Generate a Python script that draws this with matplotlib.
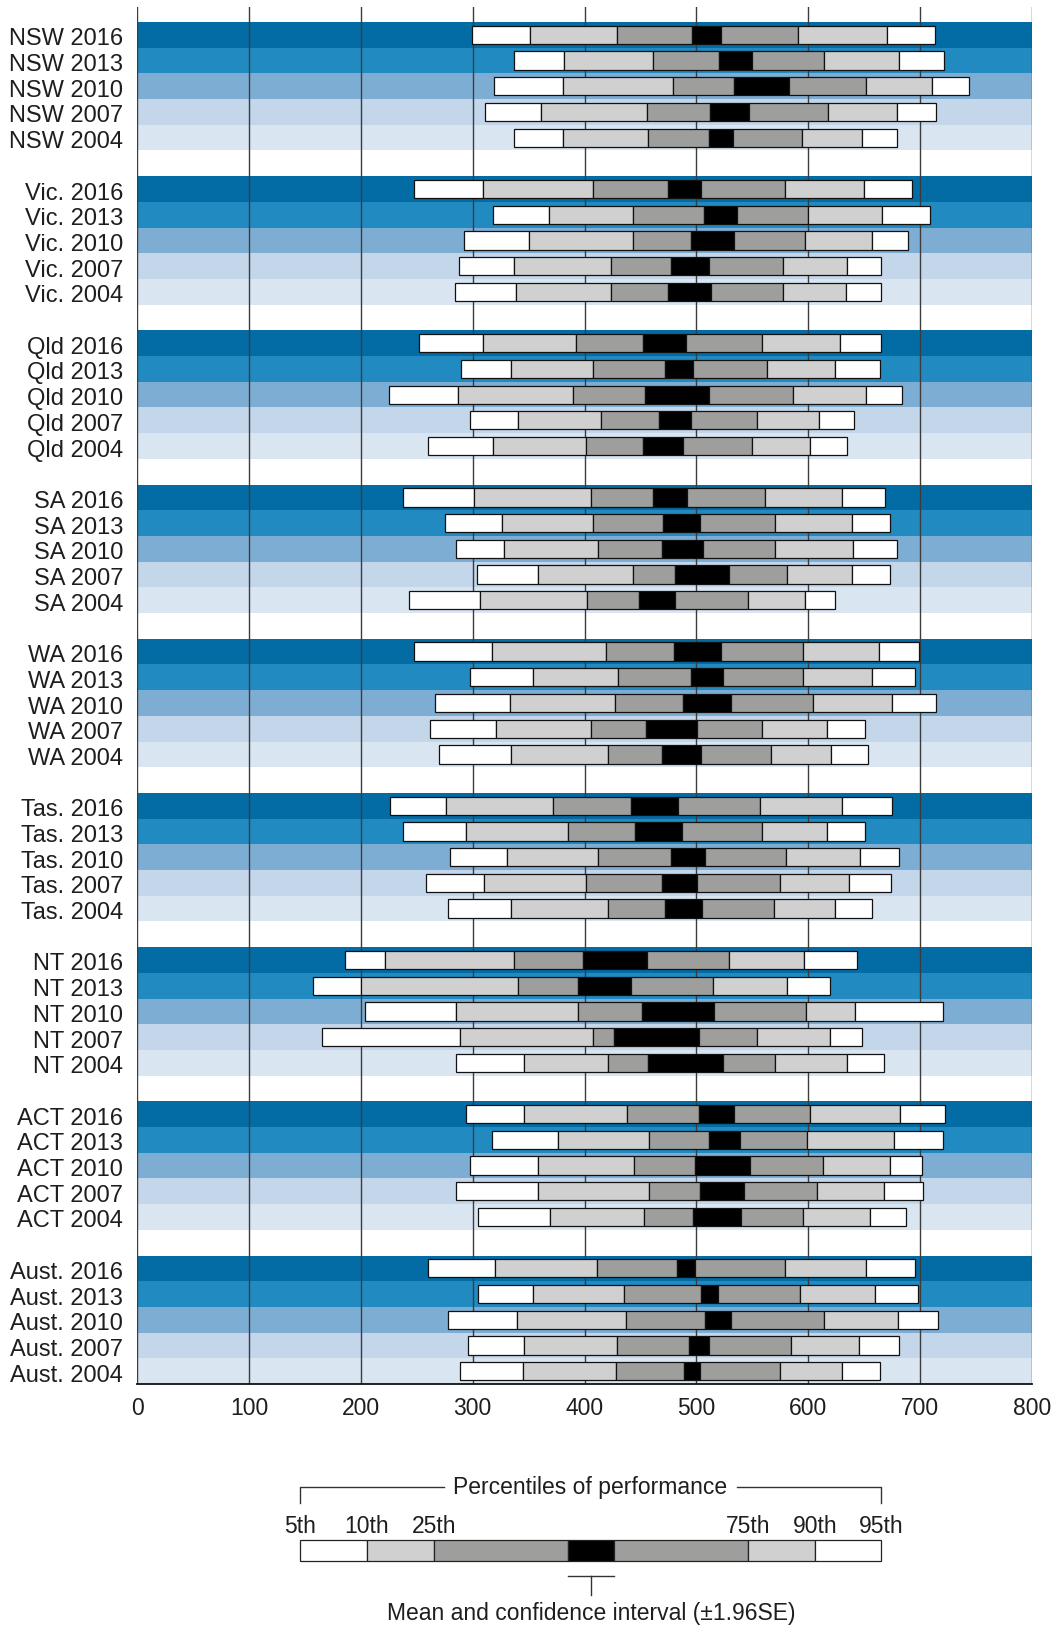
import matplotlib
matplotlib.use('Agg')
import matplotlib.pyplot as plt
from matplotlib.transforms import ScaledTranslation
import numpy as np

plt.rcParams['font.family'] = ['Liberation Sans', 'DejaVu Sans']

# ---------------- data ----------------
groups = ['NSW', 'Vic.', 'Qld', 'SA', 'WA', 'Tas.', 'NT', 'ACT', 'Aust.']
years = ['2016', '2013', '2010', '2007', '2004']

# one entry per row, order: group by group, 2016 -> 2004
p5 = [299, 337, 319, 311, 337,
      248, 318, 292, 288, 284,
      252, 290, 225, 298, 260,
      238, 275, 285, 304, 243,
      248, 298, 266, 262, 270,
      226, 238, 280, 258, 278,
      186, 157, 204, 165, 285,
      294, 317, 298, 285, 305,
      260, 305, 278, 296, 289]
p10 = [351, 382, 381, 361, 381,
       309, 368, 350, 337, 339,
       309, 334, 287, 341, 318,
       301, 326, 328, 358, 307,
       317, 354, 333, 321, 334,
       276, 294, 331, 310, 334,
       222, 200, 285, 289, 346,
       346, 376, 358, 358, 369,
       320, 354, 340, 346, 345]
p25 = [429, 461, 479, 456, 457,
       408, 443, 443, 424, 424,
       392, 408, 390, 415, 401,
       406, 408, 412, 443, 402,
       419, 430, 427, 406, 421,
       372, 385, 412, 401, 421,
       337, 341, 394, 408, 421,
       438, 458, 444, 458, 453,
       411, 435, 437, 429, 428]
ci_lo = [496, 520, 534, 512, 511,
         475, 507, 495, 477, 475,
         452, 472, 454, 467, 452,
         461, 470, 469, 481, 449,
         480, 495, 488, 455, 469,
         442, 445, 477, 469, 472,
         399, 394, 451, 426, 457,
         502, 511, 499, 503, 497,
         483, 504, 508, 493, 489]
ci_hi = [522, 550, 583, 547, 533,
         504, 536, 534, 511, 513,
         491, 497, 511, 495, 488,
         492, 503, 506, 529, 481,
         522, 524, 531, 501, 504,
         484, 487, 508, 501, 505,
         456, 442, 516, 502, 524,
         534, 539, 548, 543, 540,
         499, 519, 531, 511, 503]
p75 = [591, 614, 652, 618, 594,
       579, 600, 597, 577, 577,
       559, 563, 586, 554, 550,
       561, 570, 570, 581, 546,
       595, 595, 604, 559, 567,
       557, 559, 580, 575, 569,
       529, 515, 598, 554, 570,
       602, 599, 613, 608, 595,
       579, 593, 614, 585, 575]
p90 = [670, 681, 711, 679, 648,
       650, 666, 657, 635, 634,
       628, 624, 652, 610, 602,
       630, 639, 640, 639, 597,
       663, 657, 675, 617, 620,
       630, 617, 646, 636, 624,
       596, 581, 642, 619, 635,
       682, 677, 673, 668, 655,
       652, 660, 680, 645, 630]
p95 = [713, 721, 744, 714, 679,
       693, 709, 689, 665, 665,
       665, 664, 684, 641, 635,
       669, 673, 679, 673, 624,
       699, 695, 714, 651, 653,
       675, 651, 681, 674, 657,
       644, 619, 720, 648, 668,
       722, 720, 702, 703, 687,
       695, 698, 716, 681, 664]

band_colors = ['#036ca5', '#218ac0', '#7eadd4', '#c3d6ea', '#dae5f2']
seg_colors = ['#ffffff', '#d0d0d0', '#9e9e9d', '#000000', '#9e9e9d', '#d0d0d0', '#ffffff']
txt = '#1e1e1e'

fig = plt.figure(figsize=(10.55, 16.26), dpi=100)
ax = fig.add_axes([137 / 1055, 242 / 1626, 895 / 1055, 1377 / 1626])

edges = np.array([p5, p10, p25, ci_lo, ci_hi, p75, p90, p95])
ypos = []
labels = []
for g, name in enumerate(groups):
    for i, yr in enumerate(years):
        ypos.append(g * 6 + i)
        labels.append(name + ' ' + yr)
ypos = np.array(ypos)
year_idx = np.tile(np.arange(len(years)), len(groups))

# background bands
ax.barh(ypos, 800, left=0, height=1.0, color=[band_colors[i] for i in year_idx], zorder=0)

# gridlines
for xv in range(0, 801, 100):
    ax.axvline(xv, color='#3c3c3c', lw=1.0, zorder=1)

# percentile bars
for j in range(7):
    ax.barh(ypos, edges[j + 1] - edges[j], left=edges[j], height=0.71,
            color=seg_colors[j], edgecolor='#111111', linewidth=0.9, zorder=2)

ax.set_xlim(0, 800)
ax.set_ylim(52.5, -1.084)
ax.set_xticks(range(0, 801, 100))
ax.set_xticklabels([str(v) for v in range(0, 801, 100)], fontsize=16.5, color=txt)
ax.set_yticks(ypos)
ax.set_yticklabels(labels, fontsize=17, color=txt)
ax.tick_params(axis='x', length=0, pad=9)
ax.tick_params(axis='y', length=0, pad=10)
shift = ScaledTranslation(0, -2 / 100, fig.dpi_scale_trans)
for lbl in ax.get_yticklabels():
    lbl.set_transform(lbl.get_transform() + shift)
for s in ['top', 'right', 'left']:
    ax.spines[s].set_visible(False)
ax.spines['bottom'].set_color('#111111')
ax.spines['bottom'].set_linewidth(1.3)
ax.spines['bottom'].set_zorder(3)

# ---------------- key ----------------
lg = fig.add_axes([0, 0, 1, 1])
lg.set_xlim(0, 1055)
lg.set_ylim(1626, 0)
lg.axis('off')

key_x = [300, 367, 434, 568, 614, 748, 815, 881]
key_names = ['5th', '10th', '25th', '', '', '75th', '90th', '95th']
for j in range(7):
    lg.barh(1550.5, key_x[j + 1] - key_x[j], left=key_x[j], height=20.5,
            color=seg_colors[j], edgecolor='#222222', linewidth=0.9)
for xk, nm in zip(key_x, key_names):
    if nm:
        lg.text(xk, 1526, nm, ha='center', va='center', fontsize=16.5, color=txt)

lg.text(590, 1487, 'Percentiles of performance', ha='center', va='center', fontsize=16.5, color=txt)
lg.plot([300, 300, 444], [1503, 1487, 1487], color='#333333', lw=1.0)
lg.plot([737, 881, 881], [1487, 1487, 1503], color='#333333', lw=1.0)

lg.plot([568, 614], [1576, 1576], color='#333333', lw=1.0)
lg.plot([591, 591], [1576, 1595], color='#333333', lw=1.0)
lg.text(591, 1613, 'Mean and confidence interval (\u00b11.96SE)', ha='center', va='center',
        fontsize=16.5, color=txt)

fig.savefig('out.png', dpi=100)
